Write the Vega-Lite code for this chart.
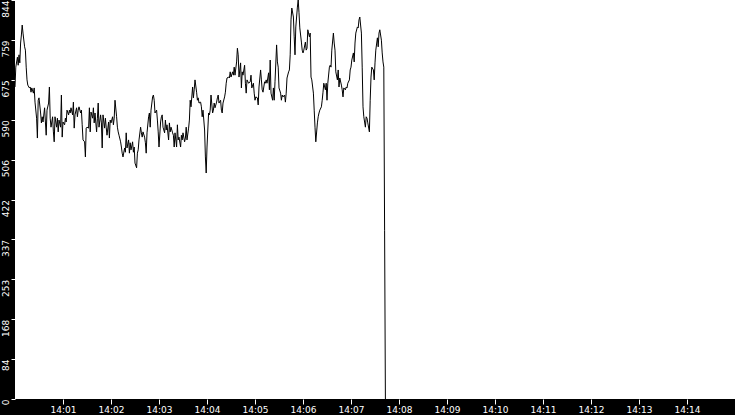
{
  "$schema": "https://vega.github.io/schema/vega-lite/v6.json",
  "width": 720,
  "height": 399,
  "autosize": "none",
  "padding": {"left": 15, "top": 0, "right": 0, "bottom": 16},
  "background": "black",
  "config": {
    "view": {"fill": "white", "stroke": null},
    "axis": {"grid": false, "domain": false, "tickColor": "white", "labelColor": "white", "labelFont": "DejaVu Sans", "labelFontSize": 9, "title": null}
  },
  "data": {
    "format": {"parse": {"t": "date:'%H:%M:%S'"}},
    "values": [
      {"t":"14:00:00","v":660},{"t":"14:00:01","v":702},{"t":"14:00:03","v":723},{"t":"14:00:04","v":706},{"t":"14:00:05","v":728},{"t":"14:00:06","v":711},{"t":"14:00:07","v":753},{"t":"14:00:08","v":770},{"t":"14:00:09","v":791},{"t":"14:00:10","v":774},{"t":"14:00:12","v":745},{"t":"14:00:13","v":738},{"t":"14:00:14","v":702},{"t":"14:00:15","v":675},{"t":"14:00:16","v":664},{"t":"14:00:18","v":658},{"t":"14:00:19","v":660},{"t":"14:00:20","v":649},{"t":"14:00:21","v":658},{"t":"14:00:23","v":647},{"t":"14:00:24","v":658},{"t":"14:00:25","v":628},{"t":"14:00:27","v":594},{"t":"14:00:28","v":552},{"t":"14:00:29","v":632},{"t":"14:00:30","v":637},{"t":"14:00:32","v":605},{"t":"14:00:33","v":584},{"t":"14:00:34","v":597},{"t":"14:00:35","v":586},{"t":"14:00:37","v":616},{"t":"14:00:38","v":586},{"t":"14:00:39","v":558},{"t":"14:00:40","v":611},{"t":"14:00:42","v":626},{"t":"14:00:43","v":660},{"t":"14:00:44","v":594},{"t":"14:00:45","v":575},{"t":"14:00:47","v":597},{"t":"14:00:48","v":565},{"t":"14:00:49","v":544},{"t":"14:00:50","v":597},{"t":"14:00:52","v":575},{"t":"14:00:53","v":594},{"t":"14:00:54","v":565},{"t":"14:00:55","v":590},{"t":"14:00:57","v":575},{"t":"14:00:58","v":643},{"t":"14:00:59","v":554},
      {"t":"14:01:00","v":586},{"t":"14:01:02","v":580},{"t":"14:01:03","v":594},{"t":"14:01:04","v":586},{"t":"14:01:05","v":611},{"t":"14:01:07","v":601},{"t":"14:01:08","v":611},{"t":"14:01:09","v":605},{"t":"14:01:10","v":616},{"t":"14:01:12","v":601},{"t":"14:01:13","v":628},{"t":"14:01:14","v":573},{"t":"14:01:15","v":601},{"t":"14:01:17","v":616},{"t":"14:01:18","v":597},{"t":"14:01:19","v":611},{"t":"14:01:20","v":618},{"t":"14:01:22","v":605},{"t":"14:01:23","v":611},{"t":"14:01:24","v":580},{"t":"14:01:25","v":548},{"t":"14:01:27","v":544},{"t":"14:01:28","v":512},{"t":"14:01:29","v":573},{"t":"14:01:30","v":575},{"t":"14:01:32","v":573},{"t":"14:01:33","v":616},{"t":"14:01:34","v":565},{"t":"14:01:35","v":607},{"t":"14:01:37","v":594},{"t":"14:01:38","v":616},{"t":"14:01:39","v":584},{"t":"14:01:40","v":605},{"t":"14:01:42","v":565},{"t":"14:01:43","v":594},{"t":"14:01:44","v":626},{"t":"14:01:45","v":575},{"t":"14:01:47","v":601},{"t":"14:01:48","v":584},{"t":"14:01:49","v":531},{"t":"14:01:50","v":601},{"t":"14:01:52","v":573},{"t":"14:01:53","v":594},{"t":"14:01:54","v":575},{"t":"14:01:55","v":558},{"t":"14:01:57","v":586},{"t":"14:01:58","v":552},{"t":"14:01:59","v":590},
      {"t":"14:02:00","v":584},{"t":"14:02:02","v":597},{"t":"14:02:03","v":580},{"t":"14:02:04","v":594},{"t":"14:02:05","v":632},{"t":"14:02:07","v":597},{"t":"14:02:08","v":575},{"t":"14:02:09","v":565},{"t":"14:02:10","v":558},{"t":"14:02:12","v":544},{"t":"14:02:13","v":533},{"t":"14:02:14","v":520},{"t":"14:02:15","v":512},{"t":"14:02:17","v":531},{"t":"14:02:18","v":522},{"t":"14:02:19","v":563},{"t":"14:02:20","v":531},{"t":"14:02:22","v":548},{"t":"14:02:23","v":520},{"t":"14:02:24","v":542},{"t":"14:02:25","v":527},{"t":"14:02:27","v":544},{"t":"14:02:28","v":522},{"t":"14:02:29","v":533},{"t":"14:02:30","v":499},{"t":"14:02:32","v":489},{"t":"14:02:33","v":520},{"t":"14:02:34","v":527},{"t":"14:02:35","v":548},{"t":"14:02:37","v":575},{"t":"14:02:38","v":563},{"t":"14:02:39","v":554},{"t":"14:02:40","v":565},{"t":"14:02:42","v":554},{"t":"14:02:43","v":542},{"t":"14:02:44","v":520},{"t":"14:02:45","v":563},{"t":"14:02:47","v":597},{"t":"14:02:48","v":605},{"t":"14:02:49","v":575},{"t":"14:02:50","v":611},{"t":"14:02:52","v":639},{"t":"14:02:53","v":643},{"t":"14:02:54","v":632},{"t":"14:02:55","v":605},{"t":"14:02:57","v":611},{"t":"14:02:58","v":590},{"t":"14:02:59","v":565},
      {"t":"14:03:00","v":533},{"t":"14:03:02","v":586},{"t":"14:03:03","v":597},{"t":"14:03:04","v":601},{"t":"14:03:05","v":575},{"t":"14:03:07","v":563},{"t":"14:03:08","v":590},{"t":"14:03:09","v":569},{"t":"14:03:10","v":580},{"t":"14:03:12","v":548},{"t":"14:03:13","v":584},{"t":"14:03:14","v":565},{"t":"14:03:15","v":575},{"t":"14:03:17","v":563},{"t":"14:03:18","v":558},{"t":"14:03:19","v":533},{"t":"14:03:20","v":563},{"t":"14:03:22","v":533},{"t":"14:03:23","v":580},{"t":"14:03:24","v":548},{"t":"14:03:25","v":554},{"t":"14:03:27","v":533},{"t":"14:03:28","v":558},{"t":"14:03:29","v":548},{"t":"14:03:30","v":563},{"t":"14:03:32","v":544},{"t":"14:03:33","v":552},{"t":"14:03:34","v":575},{"t":"14:03:35","v":548},{"t":"14:03:37","v":573},{"t":"14:03:38","v":590},{"t":"14:03:39","v":632},{"t":"14:03:40","v":618},{"t":"14:03:42","v":660},{"t":"14:03:43","v":637},{"t":"14:03:44","v":654},{"t":"14:03:45","v":675},{"t":"14:03:47","v":649},{"t":"14:03:48","v":632},{"t":"14:03:49","v":637},{"t":"14:03:50","v":626},{"t":"14:03:52","v":628},{"t":"14:03:53","v":618},{"t":"14:03:54","v":597},{"t":"14:03:55","v":611},{"t":"14:03:57","v":569},{"t":"14:03:58","v":512},{"t":"14:03:59","v":478},
      {"t":"14:04:00","v":533},{"t":"14:04:02","v":605},{"t":"14:04:03","v":601},{"t":"14:04:04","v":611},{"t":"14:04:05","v":643},{"t":"14:04:07","v":605},{"t":"14:04:08","v":611},{"t":"14:04:09","v":626},{"t":"14:04:10","v":616},{"t":"14:04:12","v":628},{"t":"14:04:13","v":637},{"t":"14:04:14","v":643},{"t":"14:04:15","v":626},{"t":"14:04:17","v":632},{"t":"14:04:18","v":611},{"t":"14:04:19","v":605},{"t":"14:04:20","v":626},{"t":"14:04:22","v":639},{"t":"14:04:23","v":649},{"t":"14:04:24","v":668},{"t":"14:04:25","v":679},{"t":"14:04:27","v":681},{"t":"14:04:28","v":679},{"t":"14:04:29","v":692},{"t":"14:04:30","v":681},{"t":"14:04:32","v":692},{"t":"14:04:33","v":685},{"t":"14:04:34","v":702},{"t":"14:04:35","v":685},{"t":"14:04:37","v":713},{"t":"14:04:38","v":742},{"t":"14:04:39","v":728},{"t":"14:04:40","v":681},{"t":"14:04:42","v":711},{"t":"14:04:43","v":658},{"t":"14:04:44","v":692},{"t":"14:04:45","v":685},{"t":"14:04:47","v":706},{"t":"14:04:48","v":668},{"t":"14:04:49","v":647},{"t":"14:04:50","v":675},{"t":"14:04:52","v":668},{"t":"14:04:54","v":671},{"t":"14:04:55","v":685},{"t":"14:04:56","v":658},{"t":"14:04:58","v":668},{"t":"14:04:59","v":647},
      {"t":"14:05:00","v":632},{"t":"14:05:01","v":639},{"t":"14:05:03","v":637},{"t":"14:05:04","v":622},{"t":"14:05:05","v":660},{"t":"14:05:07","v":696},{"t":"14:05:08","v":675},{"t":"14:05:09","v":654},{"t":"14:05:10","v":649},{"t":"14:05:12","v":671},{"t":"14:05:13","v":668},{"t":"14:05:14","v":675},{"t":"14:05:15","v":668},{"t":"14:05:17","v":690},{"t":"14:05:18","v":654},{"t":"14:05:19","v":717},{"t":"14:05:20","v":647},{"t":"14:05:22","v":632},{"t":"14:05:23","v":658},{"t":"14:05:24","v":632},{"t":"14:05:25","v":671},{"t":"14:05:27","v":749},{"t":"14:05:28","v":713},{"t":"14:05:29","v":702},{"t":"14:05:30","v":658},{"t":"14:05:32","v":647},{"t":"14:05:33","v":632},{"t":"14:05:34","v":643},{"t":"14:05:35","v":639},{"t":"14:05:37","v":643},{"t":"14:05:38","v":628},{"t":"14:05:39","v":647},{"t":"14:05:40","v":679},{"t":"14:05:42","v":692},{"t":"14:05:43","v":696},{"t":"14:05:44","v":728},{"t":"14:05:45","v":802},{"t":"14:05:46","v":827},{"t":"14:05:48","v":808},{"t":"14:05:49","v":766},{"t":"14:05:50","v":728},{"t":"14:05:51","v":787},{"t":"14:05:53","v":829},{"t":"14:05:54","v":844},{"t":"14:05:55","v":817},{"t":"14:05:56","v":785},{"t":"14:05:58","v":755},{"t":"14:05:59","v":738},
      {"t":"14:06:00","v":732},{"t":"14:06:01","v":738},{"t":"14:06:03","v":755},{"t":"14:06:04","v":738},{"t":"14:06:05","v":742},{"t":"14:06:06","v":781},{"t":"14:06:08","v":766},{"t":"14:06:09","v":774},{"t":"14:06:10","v":681},{"t":"14:06:11","v":675},{"t":"14:06:13","v":647},{"t":"14:06:14","v":611},{"t":"14:06:15","v":575},{"t":"14:06:16","v":544},{"t":"14:06:18","v":584},{"t":"14:06:19","v":597},{"t":"14:06:20","v":605},{"t":"14:06:21","v":611},{"t":"14:06:23","v":618},{"t":"14:06:24","v":632},{"t":"14:06:25","v":649},{"t":"14:06:26","v":668},{"t":"14:06:28","v":654},{"t":"14:06:29","v":668},{"t":"14:06:30","v":632},{"t":"14:06:31","v":668},{"t":"14:06:33","v":702},{"t":"14:06:34","v":706},{"t":"14:06:35","v":702},{"t":"14:06:36","v":738},{"t":"14:06:38","v":774},{"t":"14:06:39","v":753},{"t":"14:06:40","v":738},{"t":"14:06:41","v":692},{"t":"14:06:43","v":675},{"t":"14:06:44","v":696},{"t":"14:06:45","v":660},{"t":"14:06:46","v":679},{"t":"14:06:48","v":664},{"t":"14:06:49","v":654},{"t":"14:06:50","v":639},{"t":"14:06:51","v":658},{"t":"14:06:53","v":654},{"t":"14:06:54","v":660},{"t":"14:06:55","v":658},{"t":"14:06:56","v":668},{"t":"14:06:58","v":675},{"t":"14:06:59","v":696},
      {"t":"14:07:00","v":702},{"t":"14:07:01","v":717},{"t":"14:07:03","v":732},{"t":"14:07:04","v":713},{"t":"14:07:05","v":753},{"t":"14:07:06","v":774},{"t":"14:07:08","v":787},{"t":"14:07:09","v":785},{"t":"14:07:10","v":802},{"t":"14:07:11","v":808},{"t":"14:07:13","v":774},{"t":"14:07:14","v":702},{"t":"14:07:15","v":618},{"t":"14:07:16","v":597},{"t":"14:07:18","v":575},{"t":"14:07:19","v":597},{"t":"14:07:20","v":594},{"t":"14:07:21","v":584},{"t":"14:07:23","v":565},{"t":"14:07:24","v":632},{"t":"14:07:25","v":681},{"t":"14:07:26","v":702},{"t":"14:07:28","v":696},{"t":"14:07:29","v":675},{"t":"14:07:30","v":711},{"t":"14:07:31","v":738},{"t":"14:07:33","v":764},{"t":"14:07:34","v":745},{"t":"14:07:35","v":774},{"t":"14:07:36","v":781},{"t":"14:07:38","v":759},{"t":"14:07:39","v":732},{"t":"14:07:40","v":713},{"t":"14:07:41","v":702},{"t":"14:07:42","v":357},{"t":"14:07:43","v":0}
    ]
  },
  "mark": {"type": "line", "color": "black", "strokeWidth": 1},
  "encoding": {
    "x": {
      "field": "t",
      "type": "temporal",
      "scale": {"domain": [{"year": 1900, "month": 1, "date": 1, "hours": 14, "minutes": 0}, {"year": 1900, "month": 1, "date": 1, "hours": 14, "minutes": 15}]},
      "axis": {
        "format": "%H:%M",
        "tickSize": 5,
        "labelPadding": 1,
        "labelBaseline": "top",
        "values": [
          {"year": 1900, "month": 1, "date": 1, "hours": 14, "minutes": 1},
          {"year": 1900, "month": 1, "date": 1, "hours": 14, "minutes": 2},
          {"year": 1900, "month": 1, "date": 1, "hours": 14, "minutes": 3},
          {"year": 1900, "month": 1, "date": 1, "hours": 14, "minutes": 4},
          {"year": 1900, "month": 1, "date": 1, "hours": 14, "minutes": 5},
          {"year": 1900, "month": 1, "date": 1, "hours": 14, "minutes": 6},
          {"year": 1900, "month": 1, "date": 1, "hours": 14, "minutes": 7},
          {"year": 1900, "month": 1, "date": 1, "hours": 14, "minutes": 8},
          {"year": 1900, "month": 1, "date": 1, "hours": 14, "minutes": 9},
          {"year": 1900, "month": 1, "date": 1, "hours": 14, "minutes": 10},
          {"year": 1900, "month": 1, "date": 1, "hours": 14, "minutes": 11},
          {"year": 1900, "month": 1, "date": 1, "hours": 14, "minutes": 12},
          {"year": 1900, "month": 1, "date": 1, "hours": 14, "minutes": 13},
          {"year": 1900, "month": 1, "date": 1, "hours": 14, "minutes": 14}
        ]
      }
    },
    "y": {
      "field": "v",
      "type": "quantitative",
      "scale": {"domain": [0, 844], "nice": false},
      "axis": {
        "values": [0, 84.4, 168.8, 253.2, 337.6, 422, 506.4, 590.8, 675.2, 759.6, 844],
        "labelExpr": "floor(datum.value)",
        "labelAngle": -90,
        "labelAlign": "right",
        "labelBaseline": "alphabetic",
        "tickSize": 4,
        "labelPadding": 3
      }
    }
  }
}
